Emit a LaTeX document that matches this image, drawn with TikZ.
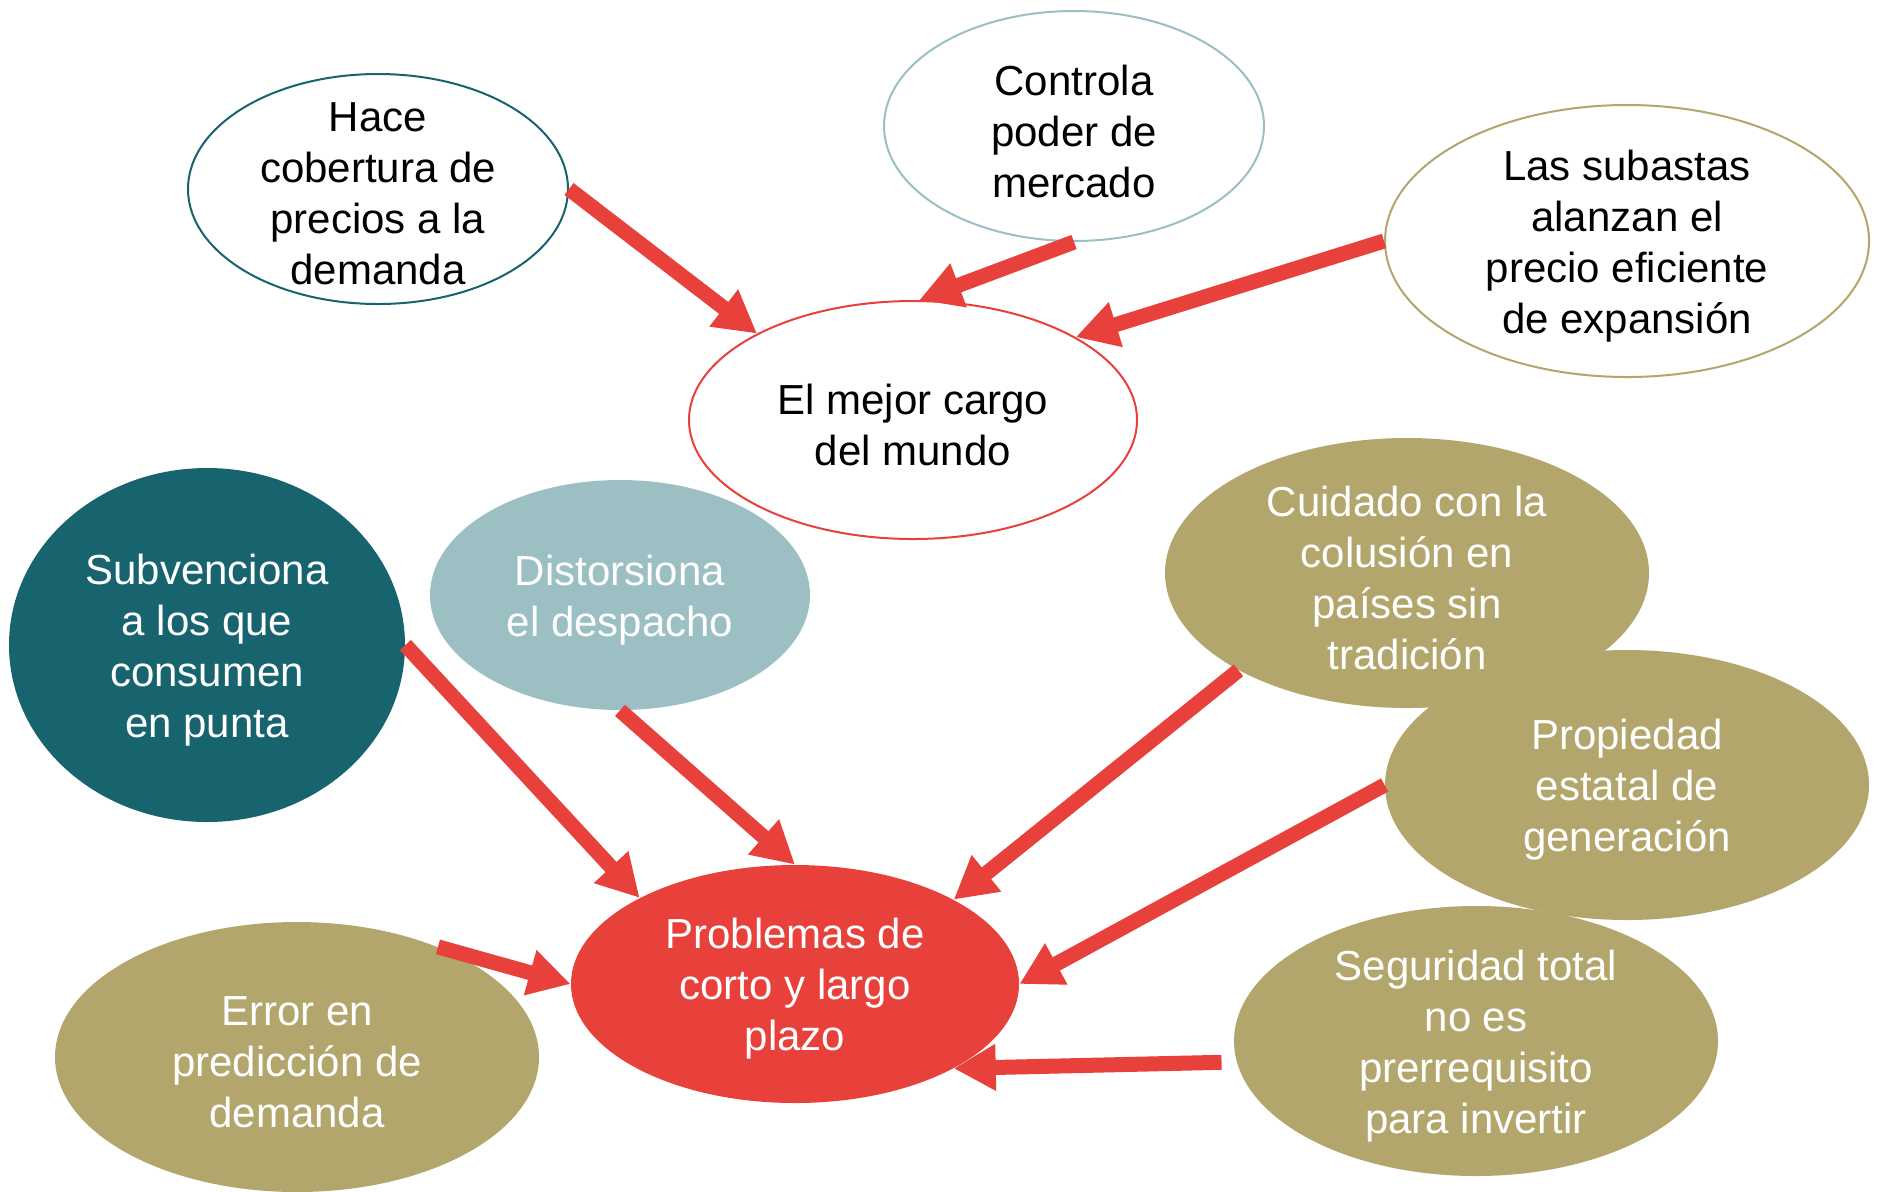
\documentclass[tikz,border=0pt]{standalone}
\usepackage{fontspec}
\setmainfont{Liberation Sans}
\usetikzlibrary{shapes.geometric,arrows.meta}
\definecolor{tealD}{HTML}{17646E}
\definecolor{tealL}{HTML}{9BBFC2}
\definecolor{khaki}{HTML}{B3A66C}
\definecolor{redA}{HTML}{E8403A}
\begin{document}
\begin{tikzpicture}[x=0.5pt,y=-0.5pt,
  bub/.style={ellipse,inner sep=0pt},
  outl/.style={bub,draw=#1,line width=1pt,fill=white},
  filled/.style={bub,fill=#1},
  txt/.style={align=center,font=\fontsize{21}{25.5}\selectfont,text=#1,yshift=-2.5pt},
  arr/.style={draw=redA,line width=7.5pt,-{Triangle[length=21pt,width=22pt]}}]
\useasboundingbox (0,0) rectangle (1877,1191);
\fill[white] (0,0) rectangle (1877,1191);
% outlined bubbles
\node[outl=tealD,minimum width=190pt,minimum height=115pt] (hace) at (378,189) {};
\node[outl=tealL,minimum width=190pt,minimum height=115pt] (contr) at (1074,126) {};
\node[outl=khaki,minimum width=242pt,minimum height=136pt] (subas) at (1627,241) {};
\node[outl=redA,minimum width=224pt,minimum height=119pt] (mejor) at (913,420) {};
% filled bubbles
\node[filled=tealD,minimum width=198pt,minimum height=177pt] (subv) at (207,645) {};
\node[filled=tealL,minimum width=190pt,minimum height=115pt] (dist) at (620,595) {};
\node[filled=khaki,minimum width=242pt,minimum height=135pt] (cuid) at (1407,573) {};
\node[filled=khaki,minimum width=242pt,minimum height=135pt] (prop) at (1627,785) {};
\node[filled=redA,minimum width=224pt,minimum height=119pt] (prob) at (795,984) {};
\node[filled=khaki,minimum width=242pt,minimum height=135pt] (error) at (297,1057) {};
\node[filled=khaki,minimum width=242pt,minimum height=135pt] (segur) at (1476,1041) {};
% texts
\node[txt=black] (hace-t) at (hace) {Hace\\cobertura de\\precios a la\\demanda};
\node[txt=black] (contr-t) at (contr) {Controla\\poder de\\mercado};
\node[txt=black] (subas-t) at (subas) {Las subastas\\alanzan el\\precio eficiente\\de expansión};
\node[txt=black] (mejor-t) at (mejor) {El mejor cargo\\del mundo};
\node[txt=white] (subv-t) at (subv) {Subvenciona\\a los que\\consumen\\en punta};
\node[txt=white] (dist-t) at (dist) {Distorsiona\\el despacho};
\node[txt=white] (cuid-t) at (cuid) {Cuidado con la\\colusión en\\países sin\\tradición};
\node[txt=white] (prop-t) at (prop) {Propiedad\\estatal de\\generación};
\node[txt=white] (prob-t) at (prob) {Problemas de\\corto y largo\\plazo};
\node[txt=white] (error-t) at (error) {Error en\\predicción de\\demanda};
\node[txt=white] (segur-t) at (segur) {Seguridad total\\no es\\prerrequisito\\para invertir};
% arrows
\draw[arr] (hace.0) -- (mejor.151.6);
\draw[arr] (contr.-90) -- (mejor.87);
\draw[arr] (subas.180) -- (mejor.27.7);
\draw[arr] (subv.0) -- (prob.151.4);
\draw[arr] (dist.-90) -- (prob.90);
\draw[arr] (cuid.-150) -- (prob.28.6);
\draw[arr] (prop.180) -- (prob.0);
\draw[arr,shorten <=7.5pt] (segur.185) -- (prob.-28);
\draw[arr] (error.38) -- (prob.180);
\end{tikzpicture}
\end{document}
